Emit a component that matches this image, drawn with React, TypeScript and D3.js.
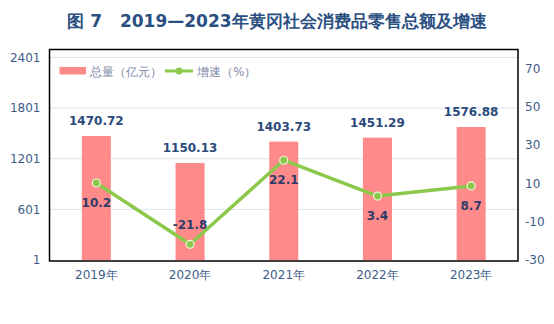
import React, { useRef, useEffect } from 'react';
import * as d3 from 'd3';

const years = ['2019年', '2020年', '2021年', '2022年', '2023年'];
const totals = [1470.72, 1150.13, 1403.73, 1451.29, 1576.88];
const growth = [10.2, -21.8, 22.1, 3.4, 8.7];
const leftTicks = [1, 601, 1201, 1801, 2401];
const rightTicks = [-30, -10, 10, 30, 50, 70];

const W = 554;
const H = 324;
const box = { left: 49.5, right: 518, top: 49.5, bottom: 261 };
const FONT = 'DejaVu Sans, sans-serif';

const App = () => {
  const ref = useRef<SVGSVGElement | null>(null);

  useEffect(() => {
    if (!ref.current) return;
    const svg = d3.select(ref.current);
    svg.selectAll('*').remove();

    const x = d3.scaleBand<string>()
      .domain(years)
      .range([box.left, box.right])
      .paddingInner(0.69)
      .paddingOuter(0.345);

    const yL = d3.scaleLinear().domain([1, 2401]).range([260, 57.5]);
    const yR = d3.scaleLinear().domain([-30, 70]).range([260, 68.5]);

    // title
    svg.append('text')
      .attr('x', 277)
      .attr('y', 27)
      .attr('text-anchor', 'middle')
      .attr('font-family', FONT)
      .attr('font-weight', 'bold')
      .attr('font-size', 17)
      .attr('fill', '#2b4f81')
      .attr('xml:space', 'preserve')
      .text('图 7   2019—2023年黄冈社会消费品零售总额及增速');

    // grid
    svg.append('g')
      .selectAll('line')
      .data(leftTicks.slice(1))
      .join('line')
      .attr('x1', box.left)
      .attr('x2', box.right)
      .attr('y1', d => yL(d))
      .attr('y2', d => yL(d))
      .attr('stroke', '#dbe3ee')
      .attr('stroke-width', 1);

    // left axis
    const axL = svg.append('g')
      .attr('transform', `translate(${box.left},0)`)
      .call(d3.axisLeft(yL).tickValues(leftTicks).tickSize(0).tickPadding(9).tickFormat(d => String(d)));
    axL.select('.domain').remove();
    axL.selectAll('text')
      .attr('font-family', FONT)
      .attr('font-size', 12)
      .attr('fill', '#3e5b88');

    // right axis
    const axR = svg.append('g')
      .attr('transform', `translate(${box.right},0)`)
      .call(d3.axisRight(yR).tickValues(rightTicks).tickSize(0).tickPadding(7).tickFormat(d => String(d)));
    axR.select('.domain').remove();
    axR.selectAll('text')
      .attr('font-family', FONT)
      .attr('font-size', 12)
      .attr('fill', '#3e5b88');

    // x axis labels
    const axB = svg.append('g')
      .attr('transform', `translate(0,${box.bottom})`)
      .call(d3.axisBottom(x).tickSize(0).tickPadding(9));
    axB.select('.domain').remove();
    axB.selectAll('text')
      .attr('font-family', FONT)
      .attr('font-size', 12)
      .attr('fill', '#3e5b88');

    // bars
    svg.append('g')
      .selectAll('rect')
      .data(totals)
      .join('rect')
      .attr('x', (_, i) => x(years[i])!)
      .attr('width', x.bandwidth())
      .attr('y', d => yL(d))
      .attr('height', d => yL(1) - yL(d))
      .attr('fill', '#ff8a8a');

    svg.append('g')
      .selectAll('text')
      .data(totals)
      .join('text')
      .attr('x', (_, i) => x(years[i])! + x.bandwidth() / 2)
      .attr('y', d => yL(d) - 11)
      .attr('text-anchor', 'middle')
      .attr('font-family', FONT)
      .attr('font-weight', 'bold')
      .attr('font-size', 12)
      .attr('fill', '#2b4a7c')
      .text(d => d.toFixed(2));

    // line
    const cx = (i: number) => x(years[i])! + x.bandwidth() / 2;
    const line = d3.line<number>()
      .x((_, i) => cx(i))
      .y(d => yR(d));
    svg.append('path')
      .datum(growth)
      .attr('d', line)
      .attr('fill', 'none')
      .attr('stroke', '#8cc84b')
      .attr('stroke-width', 3.5)
      .attr('stroke-linejoin', 'round');

    svg.append('g')
      .selectAll('circle')
      .data(growth)
      .join('circle')
      .attr('cx', (_, i) => cx(i))
      .attr('cy', d => yR(d))
      .attr('r', 4)
      .attr('fill', '#8cc84b')
      .attr('stroke', '#eef7d8')
      .attr('stroke-width', 1.2);

    svg.append('g')
      .selectAll('text')
      .data(growth)
      .join('text')
      .attr('x', (_, i) => cx(i))
      .attr('y', d => d < 0 ? yR(d) - 15 : yR(d) + 24)
      .attr('text-anchor', 'middle')
      .attr('font-family', FONT)
      .attr('font-weight', 'bold')
      .attr('font-size', 12)
      .attr('fill', '#2f3b68')
      .text(d => d.toFixed(1));

    // legend
    const lg = svg.append('g');
    lg.append('rect')
      .attr('x', 59.5).attr('y', 67).attr('width', 26.5).attr('height', 7.5)
      .attr('fill', '#ff8a8a');
    lg.append('text')
      .attr('x', 90).attr('y', 75.5)
      .attr('font-family', FONT).attr('font-size', 12).attr('fill', '#7d89a6')
      .text('总量（亿元）');
    lg.append('line')
      .attr('x1', 165).attr('x2', 193).attr('y1', 71).attr('y2', 71)
      .attr('stroke', '#8cc84b').attr('stroke-width', 3);
    lg.append('circle')
      .attr('cx', 179).attr('cy', 71).attr('r', 3.5)
      .attr('fill', '#8cc84b');
    lg.append('text')
      .attr('x', 197).attr('y', 75.5)
      .attr('font-family', FONT).attr('font-size', 12).attr('fill', '#7d89a6')
      .text('增速（%）');

    // frame
    svg.append('rect')
      .attr('x', box.left).attr('y', box.top)
      .attr('width', box.right - box.left).attr('height', box.bottom - box.top)
      .attr('fill', 'none')
      .attr('stroke', '#000')
      .attr('stroke-width', 1.5);
  }, []);

  return (
    <svg
      ref={ref}
      width={W}
      height={H}
      style={{ position: 'absolute', left: 0, top: 0, background: '#fff' }}
    ></svg>
  );
};

export default App;
